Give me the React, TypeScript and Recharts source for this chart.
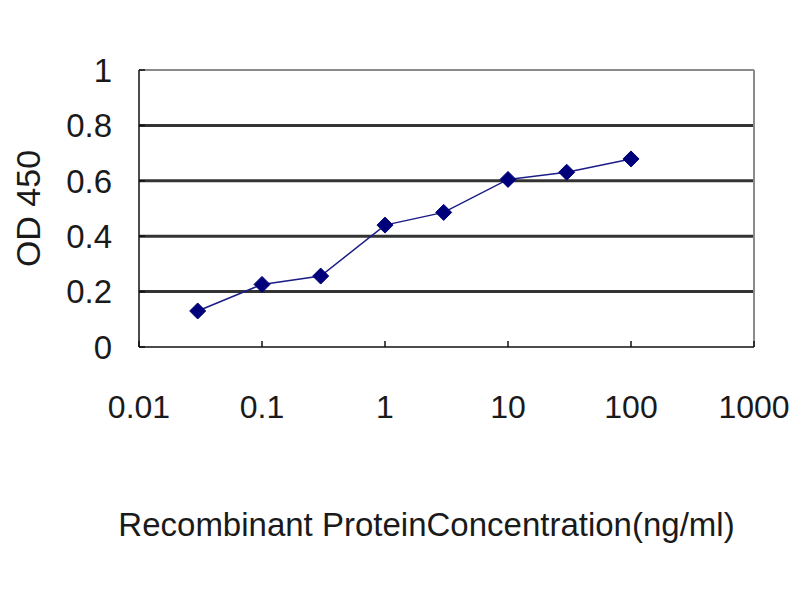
import { Label, Line, LineChart, ReferenceLine, XAxis, YAxis } from 'recharts'

const concentrations = [0.03, 0.1, 0.3, 1, 3, 10, 30, 100]
const od450 = [0.13, 0.226, 0.256, 0.44, 0.486, 0.605, 0.631, 0.679]
const xTicks = [0.01, 0.1, 1, 10, 100, 1000]
const yTicks = [0, 0.2, 0.4, 0.6, 0.8, 1]
const gridValues = [0.2, 0.4, 0.6, 0.8]

const data = concentrations.map((c, i) => ({ conc: c, od: od450[i] }))

const font = '"Liberation Sans", Arial, sans-serif'

function Diamond(props: any) {
  const { cx, cy } = props
  if (cx == null || cy == null) return null
  const r = 8
  return (
    <polygon
      points={`${cx},${cy - r} ${cx + r},${cy} ${cx},${cy + r} ${cx - r},${cy}`}
      fill="#00007a"
      stroke="#00007a"
    />
  )
}

export default function App() {
  return (
    <div style={{ position: 'absolute', left: 0, top: 0, width: 800, height: 600, background: '#fff' }}>
      <LineChart
        width={800}
        height={600}
        data={data}
        margin={{ top: 70, right: 46, bottom: 0, left: 0 }}
      >
        {gridValues.map((v) => (
          <ReferenceLine key={v} y={v} stroke="#333" strokeWidth={3} />
        ))}
        <ReferenceLine y={1} stroke="#8a8a8a" strokeWidth={2} />
        <ReferenceLine x={1000} stroke="#8a8a8a" strokeWidth={2} />
        <XAxis
          dataKey="conc"
          type="number"
          scale="log"
          domain={[0.01, 1000]}
          ticks={xTicks}
          allowDataOverflow
          height={253}
          stroke="#111"
          strokeWidth={1.5}
          tickSize={-6}
          tickMargin={54}
          tick={{ fontSize: 32, fill: '#1a1a1a', fontFamily: font }}
        >
          <Label
            value="Recombinant ProteinConcentration(ng/ml)"
            position="insideBottom"
            offset={64}
            dx={-20}
            style={{ fontSize: 33, fill: '#1a1a1a', fontFamily: font }}
          />
        </XAxis>
        <YAxis
          type="number"
          domain={[0, 1]}
          ticks={yTicks}
          width={139}
          stroke="#111"
          strokeWidth={1.5}
          tickSize={-6}
          tickMargin={33}
          tick={{ fontSize: 33, fill: '#1a1a1a', fontFamily: font }}
        >
          <Label
            value="OD 450"
            angle={-90}
            position="insideLeft"
            offset={28}
            style={{ fontSize: 34, fill: '#1a1a1a', fontFamily: font, textAnchor: 'middle' }}
          />
        </YAxis>
        <Line
          type="linear"
          dataKey="od"
          stroke="#1c1c86"
          strokeWidth={1.5}
          dot={<Diamond />}
          activeDot={false}
          isAnimationActive={false}
        />
      </LineChart>
    </div>
  )
}
